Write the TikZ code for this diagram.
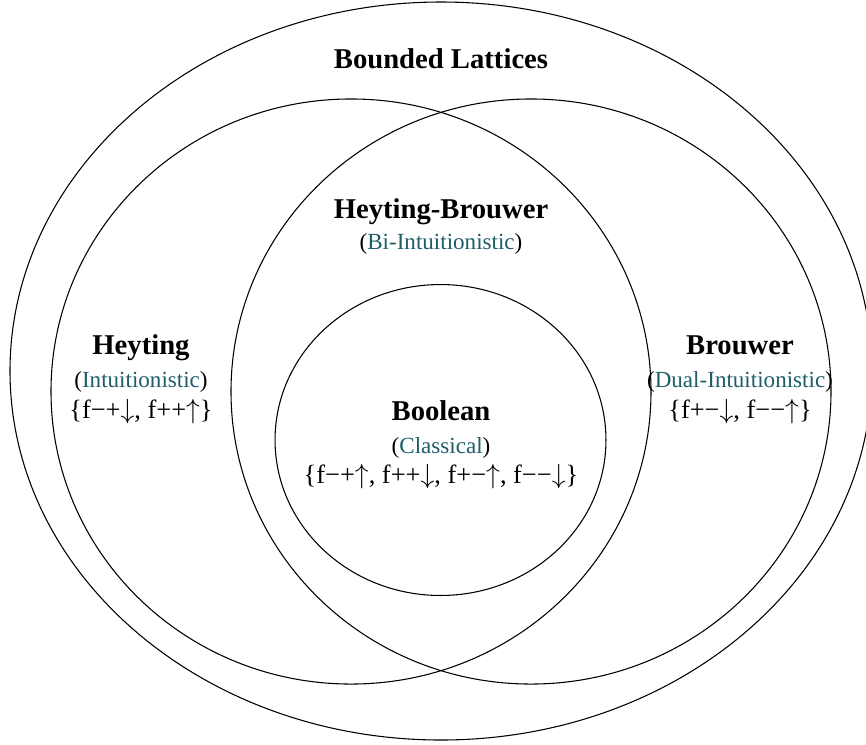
\documentclass[tikz,border=0pt]{standalone}
\usepackage{fontspec}
\setmainfont{Liberation Serif}
\definecolor{logicteal}{HTML}{1D5E69}
\newcommand{\lname}[1]{\textcolor{logicteal}{#1}}
\newcommand{\dn}{\ensuremath{\downarrow}}
\newcommand{\up}{\ensuremath{\uparrow}}
\begin{document}
\begin{tikzpicture}[x=0.75pt,y=-0.75pt,
  classname/.style={font=\fontsize{21.5}{24}\selectfont\bfseries,text height=0.72em,text depth=0.22em},
  logicname/.style={font=\fontsize{17.3}{20}\selectfont,text height=0.72em,text depth=0.22em},
  opset/.style={font=\fontsize{19.8}{22}\selectfont,text height=0.72em,text depth=0.22em}]
\useasboundingbox (0,0) rectangle (866,744);
% regions
\draw[line width=0.8pt] (441,371) ellipse [x radius=323.25pt, y radius=276.75pt];
\draw[line width=0.8pt] (351,391.5) ellipse [x radius=225pt, y radius=219.4pt];
\draw[line width=0.8pt] (531,391.5) ellipse [x radius=225pt, y radius=219.4pt];
\draw[line width=0.8pt] (440.5,440) ellipse [x radius=124.1pt, y radius=116.6pt];
% bounded lattices
\node[classname] (bl) at (441,65) {Bounded Lattices};
% heyting-brouwer
\node[classname] (hb) at (441,215) {Heyting-Brouwer};
\node[logicname] (hbsub) at (441,246) {(\lname{Bi-Intuitionistic})};
% heyting
\node[classname] (heyt) at (141,351) {Heyting};
\node[logicname] (heytsub) at (141,384) {(\lname{Intuitionistic})};
\node[opset] (heytset) at (141,415) {\{f−+\dn, f++\up\}};
% brouwer
\node[classname] (brou) at (740,351) {Brouwer};
\node[logicname] (brousub) at (740,384) {(\lname{Dual-Intuitionistic})};
\node[opset] (brouset) at (740,415) {\{f+−\dn, f−−\up\}};
% boolean
\node[classname] (bool) at (441,417) {Boolean};
\node[logicname] (boolsub) at (441,450) {(\lname{Classical})};
\node[opset] (boolset) at (441,480) {\{f−+\up, f++\dn, f+−\up, f−−\dn\}};
\end{tikzpicture}
\end{document}
